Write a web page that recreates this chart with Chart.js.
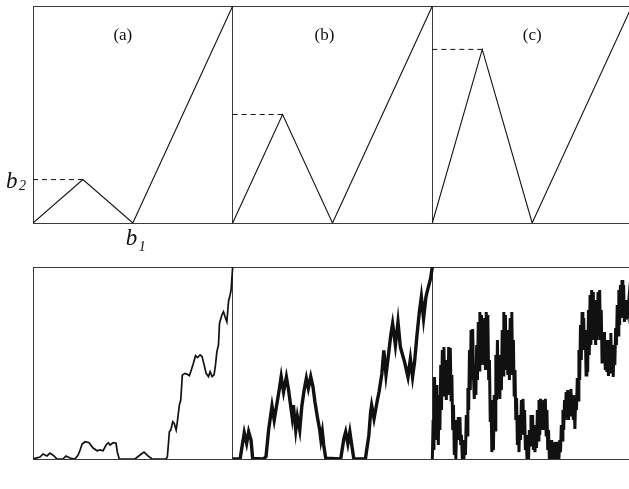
<!DOCTYPE html>
<html>
<head>
<meta charset="utf-8">
<script src="https://cdn.jsdelivr.net/npm/chart.js@4/dist/chart.umd.min.js"></script>
<style>
  html, body { margin: 0; padding: 0; background: #fff; overflow: hidden; }
  #wrap { position: relative; width: 629px; height: 489px; overflow: hidden; }
  canvas { position: absolute; left: 0; }
  #top { top: 0; }
  #bottom { top: 256px; }
</style>
</head>
<body>
<div id="wrap">
  <canvas id="top" width="640" height="256"></canvas>
  <canvas id="bottom" width="640" height="233"></canvas>
</div>
<script>
// generators (top row): shared x breakpoints, one height per panel
const genX = [0, 0.25, 0.5, 1];
const genYa = [0, 0.2, 0, 1];
const genYb = [0, 0.5, 0, 1];
const genYc = [0, 0.8, 0, 1];
const panelLabels = ['(a)', '(b)', '(c)'];

// cartoons (bottom row), [x, y] in panel units
const cartoonA = [
  [0, 0], [0.035, 0.01], [0.05, 0.026], [0.07, 0.016], [0.085, 0.031], [0.105, 0.016], [0.12, 0],
  [0.15, 0], [0.165, 0.016], [0.185, 0.005], [0.21, 0], [0.226, 0.021], [0.236, 0.047], [0.246, 0.078],
  [0.261, 0.09], [0.281, 0.085], [0.301, 0.057], [0.321, 0.043], [0.336, 0.047], [0.351, 0.043],
  [0.366, 0.073], [0.377, 0.085], [0.386, 0.073], [0.402, 0.085], [0.416, 0.082], [0.422, 0.038],
  [0.432, 0], [0.511, 0], [0.536, 0.021], [0.556, 0.036], [0.576, 0.016], [0.596, 0], [0.667, 0],
  [0.673, 0.012], [0.683, 0.142], [0.69, 0.151], [0.7, 0.194], [0.707, 0.186], [0.717, 0.151],
  [0.723, 0.194], [0.733, 0.281], [0.74, 0.307], [0.748, 0.438], [0.762, 0.446], [0.773, 0.441],
  [0.783, 0.434], [0.79, 0.455], [0.803, 0.498], [0.814, 0.538], [0.824, 0.528], [0.837, 0.542],
  [0.847, 0.533], [0.857, 0.49], [0.867, 0.446], [0.879, 0.429], [0.887, 0.455], [0.897, 0.429],
  [0.907, 0.438], [0.914, 0.49], [0.921, 0.559], [0.929, 0.594], [0.934, 0.707], [0.946, 0.75],
  [0.954, 0.767], [0.962, 0.741], [0.971, 0.715], [0.979, 0.819], [0.987, 0.854], [0.992, 0.88], [1, 1]
];

const cartoonB = [
  [0, 0], [0.033, 0], [0.038, 0.005], [0.058, 0.137], [0.07, 0.082], [0.08, 0.142], [0.092, 0.099],
  [0.1, 0.003], [0.153, 0], [0.167, 0.012], [0.18, 0.151], [0.197, 0.276], [0.208, 0.203],
  [0.218, 0.266], [0.233, 0.359], [0.243, 0.429], [0.255, 0.349], [0.269, 0.427], [0.28, 0.359],
  [0.288, 0.297], [0.298, 0.219], [0.304, 0.281], [0.316, 0.151], [0.324, 0.22], [0.336, 0.151],
  [0.346, 0.272], [0.358, 0.359], [0.369, 0.42], [0.379, 0.368], [0.391, 0.429], [0.402, 0.377],
  [0.412, 0.298], [0.424, 0.22], [0.436, 0.151], [0.442, 0.099], [0.449, 0.142], [0.456, 0.073],
  [0.466, 0.004], [0.541, 0], [0.557, 0.106], [0.566, 0.141], [0.577, 0.08], [0.587, 0.141],
  [0.599, 0.054], [0.607, 0], [0.657, 0], [0.665, 0.002], [0.682, 0.123], [0.691, 0.245],
  [0.696, 0.28], [0.708, 0.21], [0.723, 0.297], [0.733, 0.349], [0.747, 0.443], [0.757, 0.566],
  [0.768, 0.438], [0.778, 0.522], [0.792, 0.646], [0.801, 0.705], [0.815, 0.592], [0.828, 0.714],
  [0.84, 0.583], [0.851, 0.542], [0.861, 0.505], [0.878, 0.427], [0.89, 0.522], [0.901, 0.427],
  [0.911, 0.505], [0.923, 0.644], [0.935, 0.766], [0.945, 0.844], [0.956, 0.731], [0.968, 0.844],
  [0.978, 0.887], [0.991, 0.939], [1, 1]
];

const cartoonC = [
  [0, 0], [0.004, 0.203], [0.008, 0.047], [0.011, 0.427], [0.015, 0.151], [0.019, 0.385], [0.023, 0.099],
  [0.026, 0.307], [0.03, 0.073], [0.034, 0.333], [0.038, 0.151], [0.042, 0.49], [0.046, 0.255],
  [0.05, 0.568], [0.054, 0.333], [0.058, 0.583], [0.062, 0.359], [0.066, 0.438], [0.07, 0.307],
  [0.074, 0.516], [0.078, 0.333], [0.082, 0.583], [0.086, 0.385], [0.09, 0.578], [0.094, 0.307],
  [0.098, 0.438], [0.102, 0.151], [0.106, 0.281], [0.11, 0.021], [0.114, 0.099], [0.118, 0],
  [0.122, 0.203], [0.126, 0.099], [0.13, 0.219], [0.134, 0.115], [0.138, 0.219], [0.142, 0.073],
  [0.146, 0.125], [0.15, 0], [0.154, 0.047], [0.158, 0], [0.162, 0.099], [0.166, 0.021],
  [0.17, 0.229], [0.174, 0.125], [0.178, 0.37], [0.182, 0.255], [0.186, 0.568], [0.19, 0.359],
  [0.194, 0.672], [0.198, 0.411], [0.202, 0.677], [0.206, 0.438], [0.21, 0.313], [0.214, 0.464],
  [0.218, 0.333], [0.222, 0.594], [0.226, 0.411], [0.23, 0.714], [0.234, 0.464], [0.238, 0.766],
  [0.242, 0.49], [0.246, 0.75], [0.25, 0.505], [0.254, 0.62], [0.258, 0.49], [0.262, 0.734],
  [0.266, 0.464], [0.27, 0.766], [0.274, 0.49], [0.278, 0.75], [0.282, 0.411], [0.286, 0.516],
  [0.29, 0.193], [0.294, 0.307], [0.298, 0.036], [0.302, 0.177], [0.306, 0.047], [0.31, 0.333],
  [0.314, 0.151], [0.318, 0.542], [0.322, 0.307], [0.326, 0.62], [0.33, 0.359], [0.334, 0.49],
  [0.338, 0.313], [0.342, 0.542], [0.346, 0.359], [0.35, 0.672], [0.354, 0.438], [0.358, 0.766],
  [0.362, 0.49], [0.366, 0.75], [0.37, 0.464], [0.374, 0.672], [0.378, 0.438], [0.382, 0.594],
  [0.386, 0.411], [0.39, 0.734], [0.394, 0.458], [0.398, 0.766], [0.402, 0.438], [0.406, 0.62],
  [0.41, 0.333], [0.414, 0.464], [0.418, 0.203], [0.422, 0.318], [0.426, 0.073], [0.43, 0.203],
  [0.434, 0.036], [0.438, 0.229], [0.442, 0.099], [0.446, 0.307], [0.45, 0.151], [0.454, 0.313],
  [0.458, 0.125], [0.462, 0.255], [0.466, 0.047], [0.47, 0.125], [0.474, 0], [0.478, 0.073],
  [0.482, 0], [0.486, 0.151], [0.49, 0.073], [0.494, 0.229], [0.498, 0.099], [0.502, 0.229],
  [0.506, 0.047], [0.51, 0.151], [0.514, 0.036], [0.518, 0.177], [0.522, 0.057], [0.526, 0.255],
  [0.53, 0.099], [0.534, 0.307], [0.538, 0.125], [0.542, 0.313], [0.546, 0.177], [0.55, 0.281],
  [0.554, 0.151], [0.558, 0.307], [0.562, 0.177], [0.566, 0.313], [0.57, 0.125], [0.574, 0.255],
  [0.578, 0.047], [0.582, 0.151], [0.586, 0], [0.59, 0.073], [0.594, 0], [0.598, 0.099],
  [0.602, 0], [0.606, 0.057], [0.61, 0], [0.614, 0.089], [0.618, 0.021], [0.622, 0.089],
  [0.626, 0], [0.63, 0.047], [0.634, 0], [0.638, 0.099], [0.642, 0.036], [0.646, 0.177],
  [0.65, 0.099], [0.654, 0.255], [0.658, 0.151], [0.662, 0.307], [0.666, 0.203], [0.67, 0.349],
  [0.674, 0.229], [0.678, 0.359], [0.682, 0.203], [0.686, 0.349], [0.69, 0.229], [0.694, 0.365],
  [0.698, 0.255], [0.702, 0.333], [0.706, 0.203], [0.71, 0.281], [0.714, 0.156], [0.718, 0.333],
  [0.722, 0.255], [0.726, 0.422], [0.73, 0.307], [0.734, 0.568], [0.738, 0.411], [0.742, 0.698],
  [0.746, 0.516], [0.75, 0.766], [0.754, 0.594], [0.758, 0.734], [0.762, 0.568], [0.766, 0.672],
  [0.77, 0.438], [0.774, 0.594], [0.778, 0.453], [0.782, 0.776], [0.786, 0.542], [0.79, 0.854],
  [0.794, 0.594], [0.798, 0.88], [0.802, 0.62], [0.806, 0.87], [0.81, 0.646], [0.814, 0.734],
  [0.818, 0.594], [0.822, 0.828], [0.826, 0.62], [0.83, 0.87], [0.834, 0.646], [0.838, 0.88],
  [0.842, 0.62], [0.846, 0.776], [0.85, 0.505], [0.854, 0.646], [0.858, 0.516], [0.862, 0.661],
  [0.866, 0.464], [0.87, 0.62], [0.874, 0.453], [0.878, 0.594], [0.882, 0.432], [0.886, 0.62],
  [0.89, 0.453], [0.894, 0.656], [0.898, 0.464], [0.902, 0.594], [0.906, 0.427], [0.91, 0.594],
  [0.914, 0.49], [0.918, 0.682], [0.922, 0.594], [0.926, 0.802], [0.93, 0.646], [0.934, 0.88],
  [0.938, 0.698], [0.942, 0.906], [0.946, 0.734], [0.95, 0.932], [0.954, 0.75], [0.958, 0.906],
  [0.962, 0.714], [0.966, 0.828], [0.97, 0.734], [0.974, 0.828], [0.98, 0.776], [0.99, 0.9], [1, 1]
];

const INK = '#111';
const FRAME = '#3a3a3a';

// each panel sits one x unit to the right of the previous one
const shift = (pts, k) => pts.map(p => ({ x: p[0] + k, y: p[1] }));
const genPts = (ys, k) => genX.map((x, i) => ({ x: x + k, y: ys[i] }));

const frameScales = {
  x: {
    type: 'linear', min: 0, max: 3,
    ticks: { display: false, stepSize: 1 },
    grid: { color: FRAME, lineWidth: 1, drawTicks: false },
    border: { color: FRAME },
    afterFit: s => { s.height = 0; }
  },
  y: {
    type: 'linear', min: 0, max: 1,
    ticks: { display: false, stepSize: 1 },
    grid: { color: FRAME, lineWidth: 1, drawTicks: false },
    border: { color: FRAME },
    afterFit: s => { s.width = 0; }
  }
};

const baseOptions = (padding) => ({
  responsive: false,
  animation: false,
  layout: { padding },
  plugins: { legend: { display: false }, tooltip: { enabled: false } },
  elements: { point: { radius: 0 }, line: { tension: 0 } },
  scales: frameScales
});

// text on the top row: panel tags and the b1 / b2 markers
const topText = {
  id: 'topText',
  afterDraw(chart) {
    const { ctx, scales: { x, y } } = chart;
    ctx.save();
    ctx.fillStyle = INK;
    ctx.textBaseline = 'alphabetic';
    ctx.font = '17px "Liberation Serif", serif';
    ctx.textAlign = 'center';
    const tagX = [0.45, 1.46, 2.5];
    panelLabels.forEach((t, i) => ctx.fillText(t, x.getPixelForValue(tagX[i]), y.getPixelForValue(0.87) + 6));

    ctx.textAlign = 'left';
    const b2y = y.getPixelForValue(genYa[1]);
    ctx.font = 'italic 23px "Liberation Serif", serif';
    ctx.fillText('b', x.left - 27, b2y + 8);
    ctx.font = 'italic 14px "Liberation Serif", serif';
    ctx.fillText('2', x.left - 14, b2y + 10);

    const b1x = x.getPixelForValue(genX[2]);
    ctx.font = 'italic 23px "Liberation Serif", serif';
    ctx.fillText('b', b1x - 7, y.bottom + 22);
    ctx.font = 'italic 14px "Liberation Serif", serif';
    ctx.fillText('1', b1x + 6, y.bottom + 28);
    ctx.restore();
  }
};

const gens = [genYa, genYb, genYc];
const topSets = [];
gens.forEach((ys, k) => {
  topSets.push({ data: genPts(ys, k), borderColor: INK, borderWidth: 1.1, showLine: true });
  topSets.push({
    data: [{ x: k, y: ys[1] }, { x: k + genX[1], y: ys[1] }],
    borderColor: INK, borderWidth: 1, borderDash: [5, 4], showLine: true
  });
});

new Chart(document.getElementById('top'), {
  type: 'scatter',
  data: { datasets: topSets },
  options: baseOptions({ left: 33, right: 8, top: 6, bottom: 33 }),
  plugins: [topText]
});

new Chart(document.getElementById('bottom'), {
  type: 'scatter',
  data: {
    datasets: [
      { data: shift(cartoonA, 0), borderColor: INK, borderWidth: 1.7, showLine: true },
      { data: shift(cartoonB, 1), borderColor: INK, borderWidth: 3.4, showLine: true },
      { data: shift(cartoonC, 2), borderColor: INK, borderWidth: 3, showLine: true }
    ]
  },
  options: baseOptions({ left: 33, right: 8, top: 11, bottom: 30 })
});
</script>
</body>
</html>
